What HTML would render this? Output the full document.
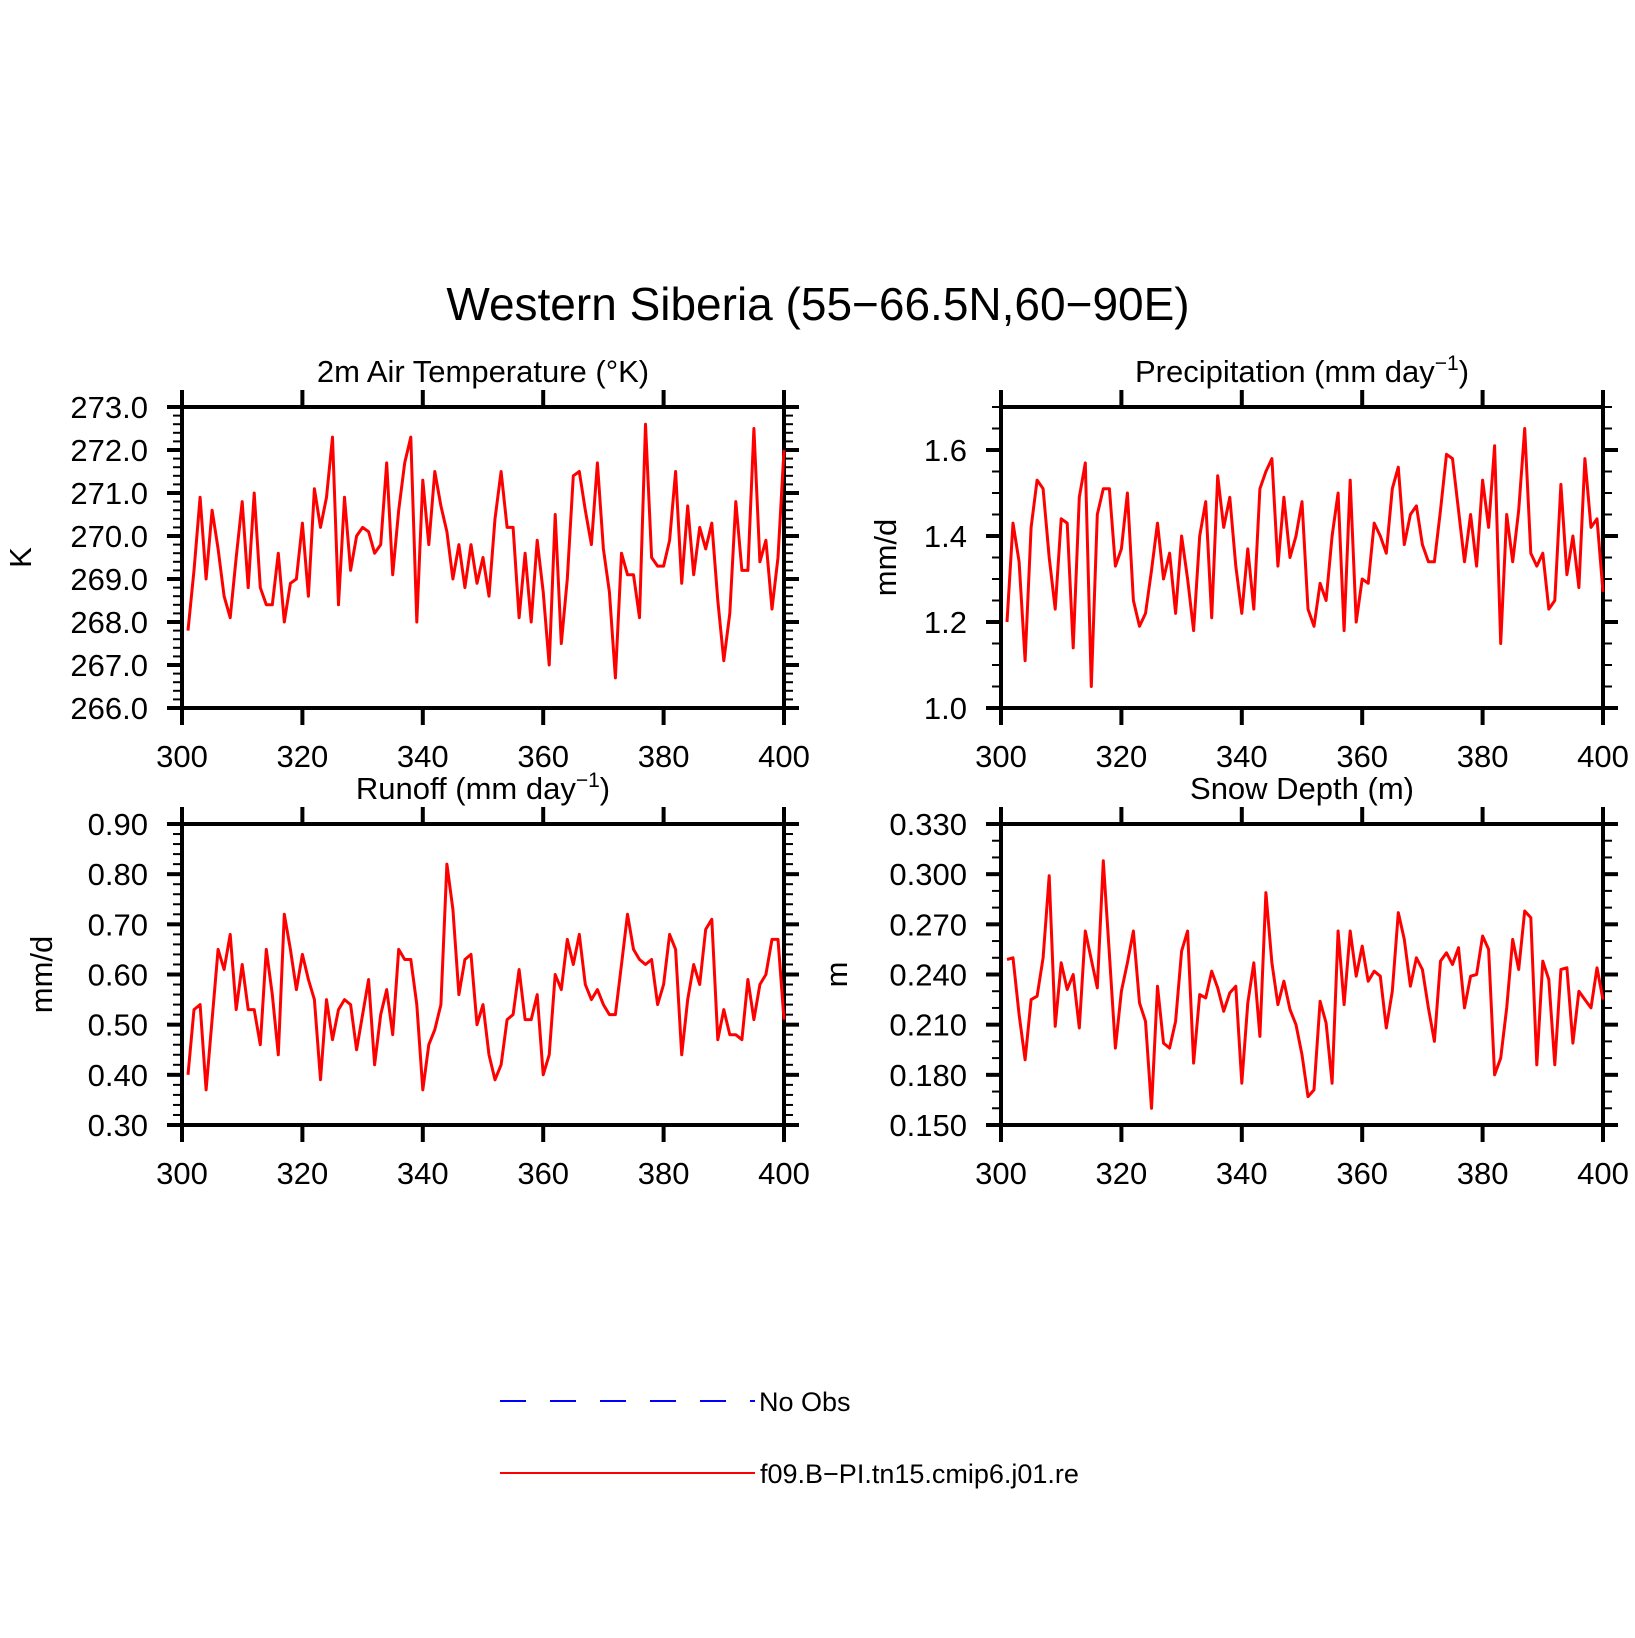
<!DOCTYPE html>
<html><head><meta charset="utf-8"><style>
html,body{margin:0;padding:0;background:#fff;}
svg{display:block;font-family:"Liberation Sans",sans-serif;}
</style></head><body>
<svg id="fig" width="1635" height="1638" viewBox="0 0 1635 1638" xmlns="http://www.w3.org/2000/svg">
<text x="818" y="320" font-size="46" text-anchor="middle" fill="#000">Western Siberia (55−66.5N,60−90E)</text>
<g>
<line x1="500" y1="1401" x2="755" y2="1401" stroke="#0000ff" stroke-width="2" stroke-dasharray="26,24"/>
<text x="759" y="1411" font-size="27">No Obs</text>
<line x1="500" y1="1473" x2="755" y2="1473" stroke="#ff0000" stroke-width="2"/>
<text x="760" y="1483" font-size="27">f09.B−PI.tn15.cmip6.j01.re</text>
</g>
</svg>
<script>
const years = Array.from({length:100},(_,i)=>301+i);
const xTicks = [300,320,340,360,380,400];
const tempValues = [267.8,269.2,270.9,269.0,270.6,269.7,268.6,268.1,269.5,270.8,268.8,271.0,268.8,268.4,268.4,269.6,268.0,268.9,269.0,270.3,268.6,271.1,270.2,270.9,272.3,268.4,270.9,269.2,270.0,270.2,270.1,269.6,269.8,271.7,269.1,270.6,271.7,272.3,268.0,271.3,269.8,271.5,270.7,270.1,269.0,269.8,268.8,269.8,268.9,269.5,268.6,270.4,271.5,270.2,270.2,268.1,269.6,268.0,269.9,268.7,267.0,270.5,267.5,269.0,271.4,271.5,270.6,269.8,271.7,269.7,268.7,266.7,269.6,269.1,269.1,268.1,272.6,269.5,269.3,269.3,269.9,271.5,268.9,270.7,269.1,270.2,269.7,270.3,268.5,267.1,268.2,270.8,269.2,269.2,272.5,269.4,269.9,268.3,269.5,272.0];
const precValues = [1.20,1.43,1.34,1.11,1.42,1.53,1.51,1.35,1.23,1.44,1.43,1.14,1.49,1.57,1.05,1.45,1.51,1.51,1.33,1.37,1.50,1.25,1.19,1.22,1.32,1.43,1.30,1.36,1.22,1.40,1.30,1.18,1.40,1.48,1.21,1.54,1.42,1.49,1.33,1.22,1.37,1.23,1.51,1.55,1.58,1.33,1.49,1.35,1.40,1.48,1.23,1.19,1.29,1.25,1.40,1.50,1.18,1.53,1.20,1.30,1.29,1.43,1.40,1.36,1.51,1.56,1.38,1.45,1.47,1.38,1.34,1.34,1.46,1.59,1.58,1.46,1.34,1.45,1.33,1.53,1.42,1.61,1.15,1.45,1.34,1.46,1.65,1.36,1.33,1.36,1.23,1.25,1.52,1.31,1.40,1.28,1.58,1.42,1.44,1.27];
const runoffValues = [0.40,0.53,0.54,0.37,0.51,0.65,0.61,0.68,0.53,0.62,0.53,0.53,0.46,0.65,0.56,0.44,0.72,0.65,0.57,0.64,0.59,0.55,0.39,0.55,0.47,0.53,0.55,0.54,0.45,0.52,0.59,0.42,0.52,0.57,0.48,0.65,0.63,0.63,0.54,0.37,0.46,0.49,0.54,0.82,0.73,0.56,0.63,0.64,0.50,0.54,0.44,0.39,0.42,0.51,0.52,0.61,0.51,0.51,0.56,0.40,0.44,0.60,0.57,0.67,0.62,0.68,0.58,0.55,0.57,0.54,0.52,0.52,0.62,0.72,0.65,0.63,0.62,0.63,0.54,0.58,0.68,0.65,0.44,0.55,0.62,0.58,0.69,0.71,0.47,0.53,0.48,0.48,0.47,0.59,0.51,0.58,0.60,0.67,0.67,0.51];
const snowValues = [0.249,0.250,0.216,0.189,0.225,0.227,0.250,0.299,0.209,0.247,0.231,0.240,0.208,0.266,0.249,0.232,0.308,0.252,0.196,0.230,0.247,0.266,0.223,0.212,0.160,0.233,0.199,0.196,0.212,0.254,0.266,0.187,0.228,0.226,0.242,0.232,0.218,0.229,0.233,0.175,0.223,0.247,0.203,0.289,0.247,0.222,0.236,0.219,0.210,0.192,0.167,0.171,0.224,0.211,0.175,0.266,0.222,0.266,0.239,0.257,0.236,0.242,0.239,0.208,0.230,0.277,0.261,0.233,0.250,0.243,0.220,0.200,0.248,0.253,0.246,0.256,0.220,0.239,0.240,0.263,0.255,0.180,0.190,0.220,0.261,0.243,0.278,0.274,0.186,0.248,0.237,0.186,0.243,0.244,0.199,0.230,0.225,0.220,0.244,0.225];
const tempTicks = ["266.0","267.0","268.0","269.0","270.0","271.0","272.0","273.0"];
const precTicks = ["1.0","1.2","1.4","1.6"];
const runoffTicks = ["0.30","0.40","0.50","0.60","0.70","0.80","0.90"];
const snowTicks = ["0.150","0.180","0.210","0.240","0.270","0.300","0.330"];

const NS="http://www.w3.org/2000/svg";
const svg=document.getElementById('fig');
function mk(tag,attrs,parent){const e=document.createElementNS(NS,tag);for(const k in attrs)e.setAttribute(k,attrs[k]);(parent||svg).appendChild(e);return e;}

function panel(o){
  const g=mk('g',{});
  
  
  const L=o.x0,R=o.x1,T=o.y0,B=o.y1;
  const xs=v=>L+(v-300)/100*(R-L);
  const ys=v=>B-(v-o.ymin)/(o.ymax-o.ymin)*(B-T);
  // minor y ticks
  for(let v=o.ymin;v<=o.ymax+1e-9;v+=o.minor){
    const y=ys(v);
    const a=mk('line',{x1:L-9,y1:y,x2:L,y2:y,stroke:'#000','stroke-width':2},g);
    
    
    const b=mk('line',{x1:R,y1:y,x2:R+9,y2:y,stroke:'#000','stroke-width':2},g);
    
    
  }
  o.ticks.forEach(t=>{
    const v=parseFloat(t),y=ys(v);
    const a=mk('line',{x1:L-15,y1:y,x2:L,y2:y,stroke:'#000','stroke-width':4},g);
    
    
    const b=mk('line',{x1:R,y1:y,x2:R+15,y2:y,stroke:'#000','stroke-width':4},g);
    
    
    const tx=mk('text',{x:L-34,y:y+11,'font-size':31,'text-anchor':'end'},g);
    tx.textContent=t;
    
    
  });
  xTicks.forEach(v=>{
    const x=xs(v);
    const a=mk('line',{x1:x,y1:T-17,x2:x,y2:T,stroke:'#000','stroke-width':4},g);
    
    
    const b=mk('line',{x1:x,y1:B,x2:x,y2:B+17,stroke:'#000','stroke-width':4},g);
    
    
    const tx=mk('text',{x:x,y:B+59,'font-size':31,'text-anchor':'middle'},g);
    tx.textContent=String(v);
    
    
  });
  const fr=mk('rect',{x:L,y:T,width:R-L,height:B-T,fill:'none',stroke:'#000','stroke-width':4},g);
  
  
  const pts=o.values.map((v,i)=>xs(years[i]).toFixed(1)+','+ys(v).toFixed(1)).join(' ');
  const pl=mk('polyline',{points:pts,fill:'none',stroke:'#ff0000','stroke-width':3,'stroke-linejoin':'round'},g);
  
  
  const ti=mk('text',{x:(L+R)/2,y:T-25,'font-size':31,'text-anchor':'middle'},g);
  ti.innerHTML=o.title;
  
  
  const yl=mk('text',{x:0,y:0,'font-size':31,'text-anchor':'middle',transform:`translate(${o.ylx},${(T+B)/2}) rotate(-90)`},g);
  yl.textContent=o.ylabel;
  
  
}
panel({name:'temperature-panel',x0:182,x1:784,y0:407,y1:708,ymin:266,ymax:273,minor:0.2,ticks:tempTicks,values:tempValues,title:'2m Air Temperature (°K)',ylabel:'K',ylx:31});
panel({name:'precipitation-panel',x0:1001,x1:1603,y0:407,y1:708,ymin:1.0,ymax:1.7,minor:0.05,ticks:precTicks,values:precValues,title:'Precipitation (mm day<tspan dy="-12" font-size="21">−1</tspan><tspan dy="12">)</tspan>',ylabel:'mm/d',ylx:896});
panel({name:'runoff-panel',x0:182,x1:784,y0:824,y1:1125,ymin:0.3,ymax:0.9,minor:0.02,ticks:runoffTicks,values:runoffValues,title:'Runoff (mm day<tspan dy="-12" font-size="21">−1</tspan><tspan dy="12">)</tspan>',ylabel:'mm/d',ylx:52});
panel({name:'snow-depth-panel',x0:1001,x1:1603,y0:824,y1:1125,ymin:0.15,ymax:0.33,minor:0.01,ticks:snowTicks,values:snowValues,title:'Snow Depth (m)',ylabel:'m',ylx:847});
</script>
</body></html>
